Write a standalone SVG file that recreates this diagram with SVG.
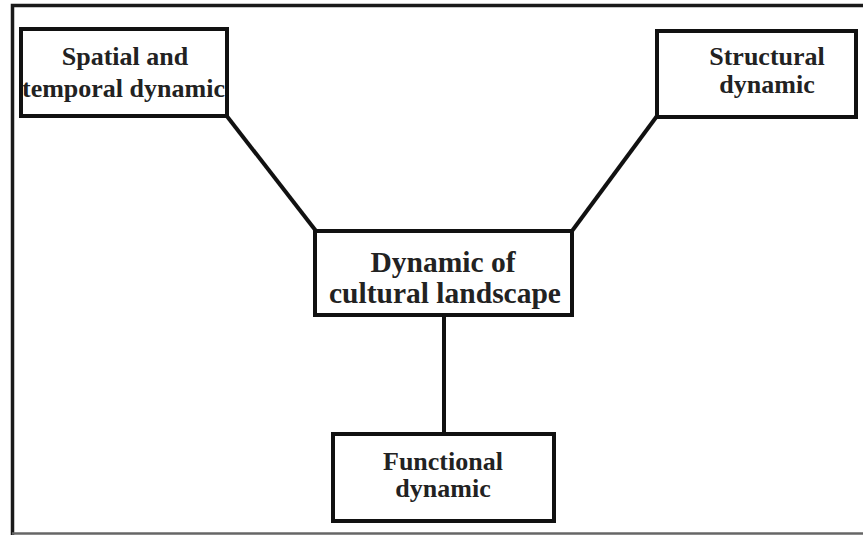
<svg xmlns="http://www.w3.org/2000/svg" width="863" height="535" viewBox="0 0 863 535">
<style>
.box{fill:#fff;stroke:#111;stroke-width:4}
.t{font-family:"Liberation Serif","Times New Roman",serif;font-weight:bold;fill:#222;font-size:26px;text-anchor:middle}
.c{stroke:#111;stroke-width:4;fill:none}
</style>
<rect width="863" height="535" fill="#fff"/>
<g id="frame">
<path d="M12.5,535 V5.5 H863" fill="none" stroke="#1a1a1a" stroke-width="3.5"/>
<line x1="12" y1="533.5" x2="863" y2="533.5" stroke="#666" stroke-width="2.5"/>
</g>
<g id="connectors">
<line class="c" x1="226" y1="115" x2="316" y2="231"/>
<line class="c" x1="657" y1="116" x2="572" y2="231"/>
<line class="c" x1="444" y1="315" x2="444" y2="433"/>
</g>
<g id="spatial">
<rect class="box" x="21" y="29" width="206" height="87"/>
<text class="t" x="125" y="65">Spatial and</text>
<text class="t" x="22" y="96.5" style="text-anchor:start">temporal dynamic</text>
<rect x="225" y="29" width="4" height="87" fill="#111"/>
</g>
<g id="structural">
<rect class="box" x="657" y="31" width="199" height="86"/>
<text class="t" x="767" y="65">Structural</text>
<text class="t" x="767" y="93">dynamic</text>
</g>
<g id="center">
<rect class="box" x="315" y="231" width="257" height="84"/>
<text class="t" x="443" y="272" style="font-size:29.5px">Dynamic of</text>
<text class="t" x="445" y="303" style="font-size:29.5px">cultural landscape</text>
</g>
<g id="functional">
<rect class="box" x="333" y="434" width="221" height="87"/>
<text class="t" x="443" y="470">Functional</text>
<text class="t" x="443" y="497">dynamic</text>
</g>
</svg>
